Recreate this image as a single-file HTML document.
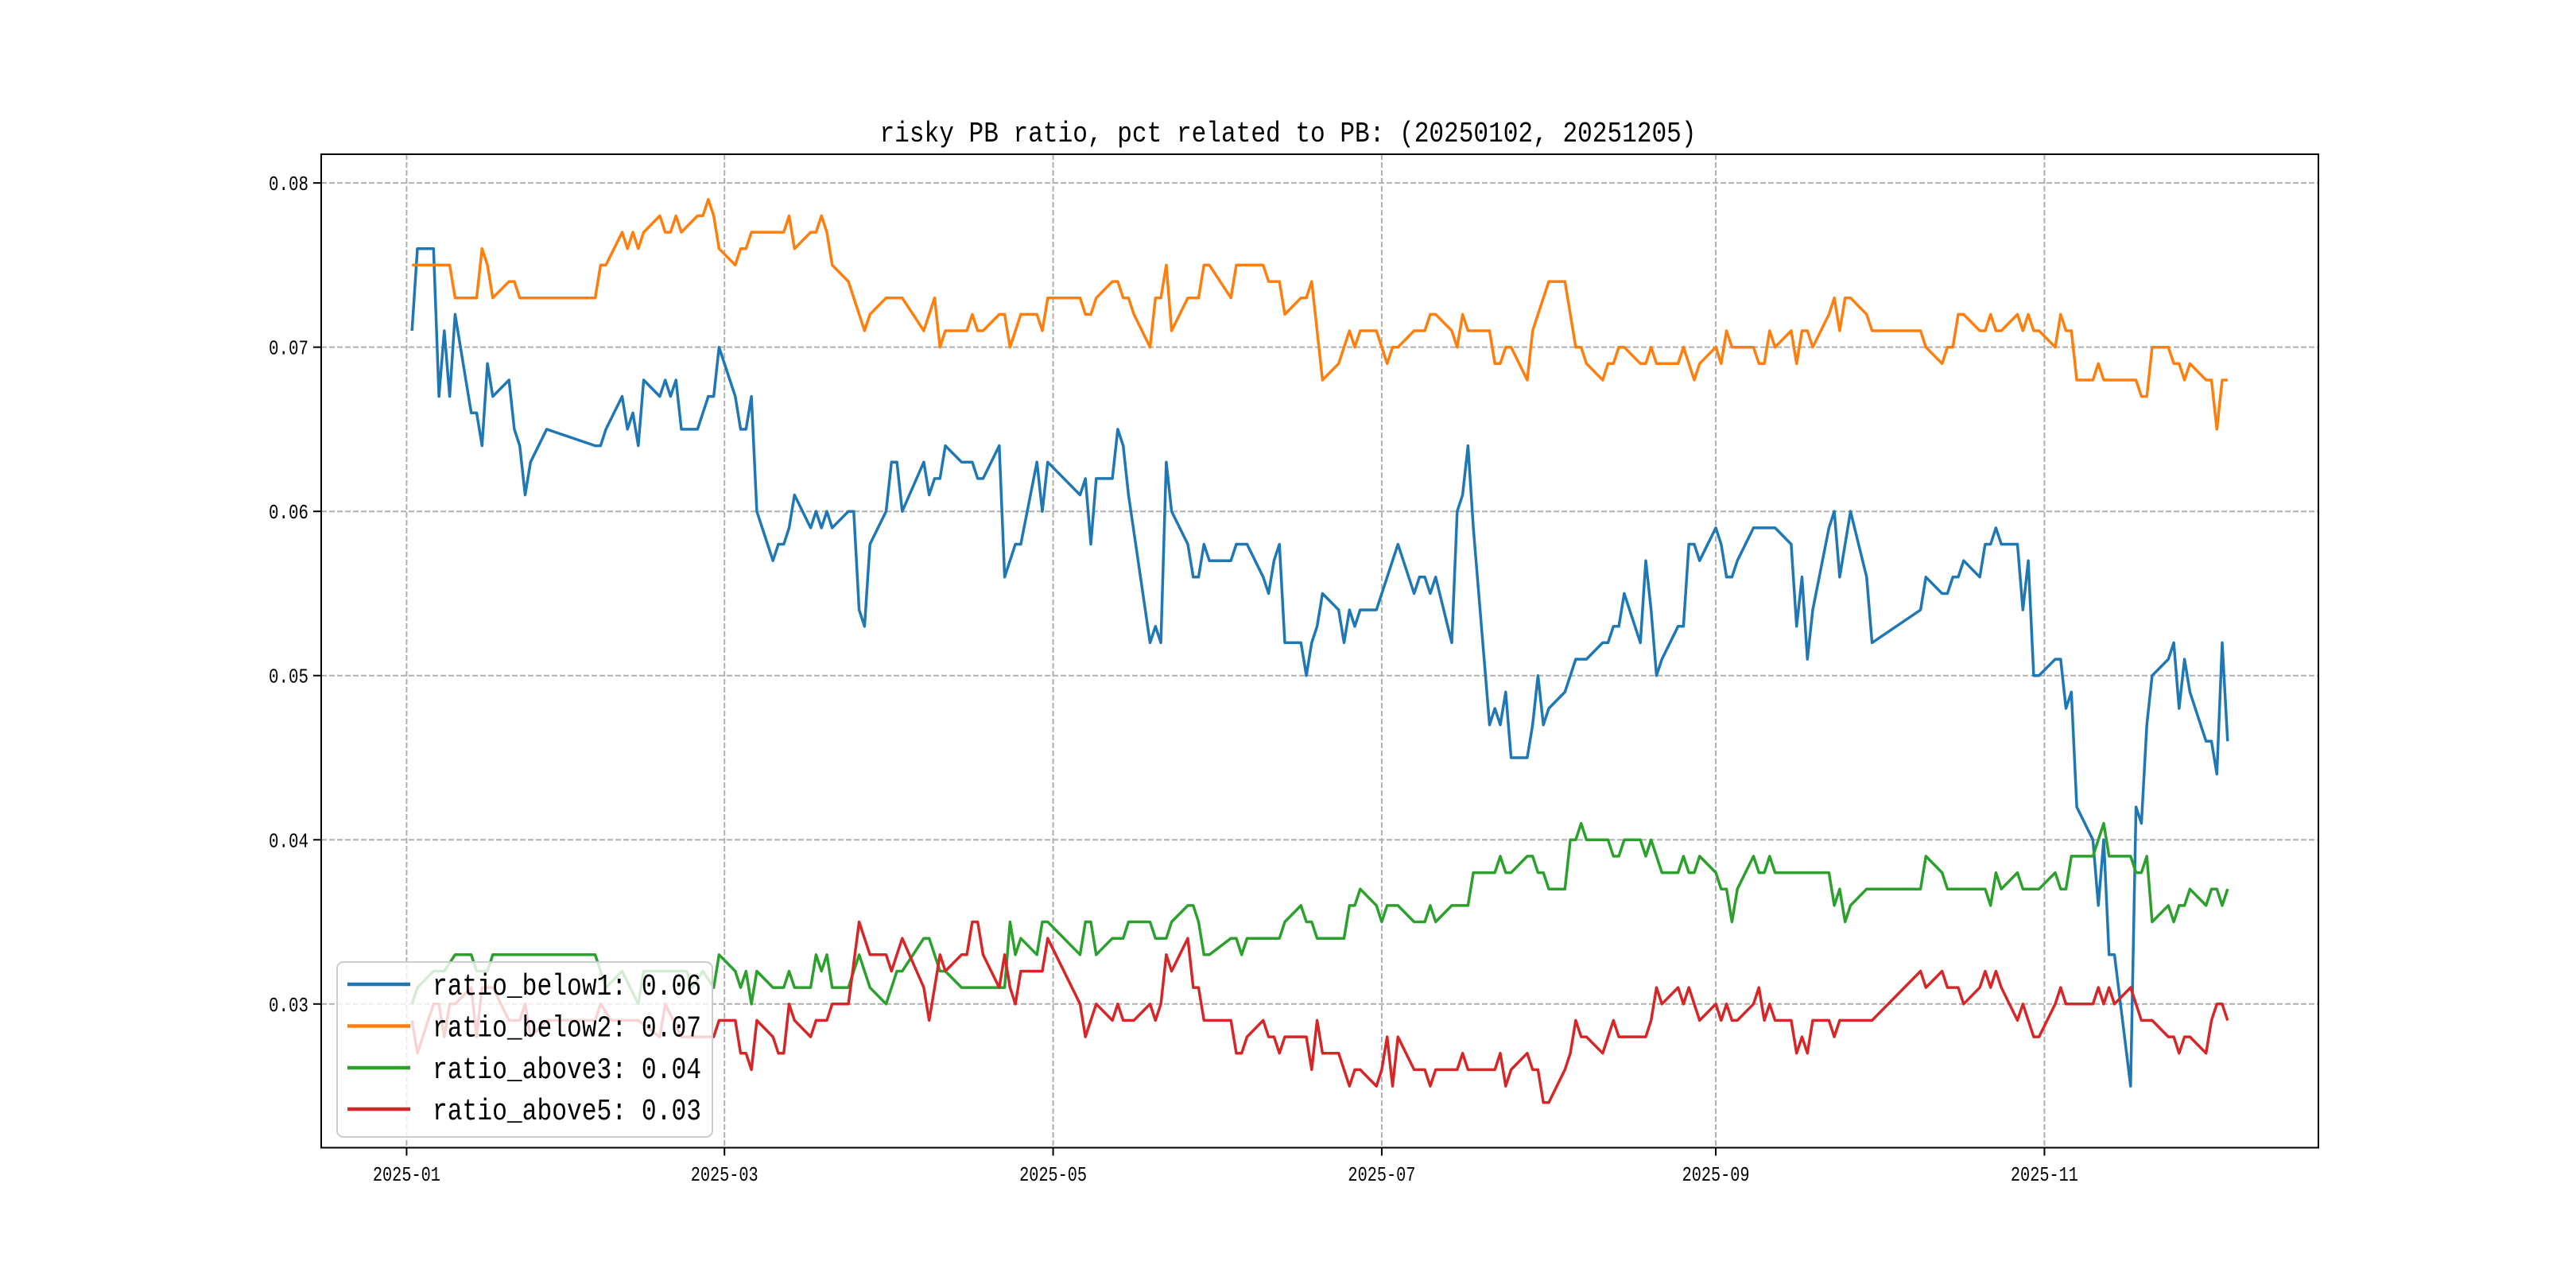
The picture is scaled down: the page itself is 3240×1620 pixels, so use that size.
<!DOCTYPE html>
<html><head><meta charset="utf-8"><style>
html,body{margin:0;padding:0;background:#fff;}
svg{display:block;}
text{font-family:"WenQuanYi Zen Hei","Liberation Mono","Noto Sans CJK SC",monospace;fill:#000;}
</style></head><body>
<svg id="chart" width="3240" height="1620" viewBox="0 0 3240 1620" xmlns="http://www.w3.org/2000/svg">
<rect x="0" y="0" width="3240" height="1620" fill="#fff"/>
<text x="1620" y="178" text-anchor="middle" font-size="36" textLength="1027" lengthAdjust="spacingAndGlyphs">risky PB ratio, pct related to PB: (20250102, 20251205)</text>
<g id="grid"></g>
<g id="series"></g>
<g id="axes"></g>
<g id="legend"></g>
</svg>
<script>
// ---- data (days since 2025-01-01, values in thousandths) ----
const xTickLabels = ["2025-01","2025-03","2025-05","2025-07","2025-09","2025-11"];
const xTickDays = [0,59,120,181,243,304];
const yTickValues = [0.03,0.04,0.05,0.06,0.07,0.08];
const yTickLabels = ["0.03","0.04","0.05","0.06","0.07","0.08"];
const seriesNames = ["ratio_below1: 0.06","ratio_below2: 0.07","ratio_above3: 0.04","ratio_above5: 0.03"];
const seriesColors = ["#1f77b4","#ff7f0e","#2ca02c","#d62728"];

const below1Days = [1,2,5,6,7,8,9,12,13,14,15,16,19,20,21,22,23,26,35,36,37,40,41,42,43,44,47,48,49,50,51,54,56,57,58,61,62,63,64,65,68,69,70,71,72,75,76,77,78,79,82,83,84,85,86,89,90,91,92,96,97,98,99,100,103,105,106,107,110,111,113,114,117,118,119,125,126,127,128,131,132,133,134,138,139,140,141,142,145,146,147,148,149,153,154,156,159,160,161,162,163,166,167,168,169,170,173,174,175,176,177,180,184,187,188,189,190,191,194,195,196,197,198,201,202,203,204,205,208,209,210,211,212,215,217,219,222,223,224,225,226,229,230,231,232,233,236,237,238,239,240,243,244,245,246,247,250,254,257,258,259,260,261,264,265,266,268,271,272,281,282,285,286,287,288,289,292,293,294,295,296,299,300,301,302,303,306,307,308,309,310,313,314,315,316,317,320,321,322,323,324,327,328,329,330,331,334,335,336,337,338];
const below1Vals = [71,76,76,67,71,67,72,66,66,64,69,67,68,65,64,61,63,65,64,64,65,67,65,66,64,68,67,68,67,68,65,65,67,67,70,67,65,65,67,60,57,58,58,59,61,59,60,59,60,59,60,60,54,53,58,60,63,63,60,63,61,62,62,64,63,63,62,62,64,56,58,58,63,60,63,61,62,58,62,62,65,64,61,52,53,52,63,60,58,56,56,58,57,57,58,58,56,55,57,58,52,52,50,52,53,55,54,52,54,53,54,54,58,55,56,56,55,56,52,60,61,64,59,47,48,47,49,45,45,47,50,47,48,49,51,51,52,52,53,53,55,52,57,54,50,51,53,53,58,58,57,59,58,56,56,57,59,59,58,53,56,51,54,59,60,56,60,56,52,54,56,55,55,56,56,57,56,58,58,59,58,58,54,57,50,50,51,51,48,49,42,40,36,40,33,33,25,42,41,47,50,51,52,48,51,49,46,46,44,52,46];

const below2Days = [1,8,9,13,14,15,16,19,20,21,35,36,37,40,41,42,43,44,47,48,49,50,51,54,55,56,57,58,61,62,63,64,70,71,72,75,76,77,78,79,82,85,86,89,92,96,98,99,100,104,105,106,107,110,111,112,114,117,118,119,125,126,127,128,131,132,133,134,135,138,139,140,141,142,145,147,148,149,153,154,159,160,162,163,166,167,168,170,173,175,176,177,180,182,183,184,187,189,190,191,194,195,196,197,201,202,203,204,205,208,209,212,215,217,218,219,222,223,224,225,226,229,230,231,232,236,237,239,240,243,244,245,246,250,251,252,253,254,257,258,259,260,261,264,265,266,267,268,271,272,281,282,285,286,287,288,289,292,293,294,295,296,299,300,301,302,303,306,307,308,309,310,313,314,315,321,322,323,324,327,328,329,330,331,334,335,336,337,338];
const below2Vals = [75,75,73,73,76,75,73,74,74,73,73,75,75,77,76,77,76,77,78,77,77,78,77,78,78,79,78,76,75,76,76,77,77,78,76,77,77,78,77,75,74,71,72,73,73,71,73,70,71,71,72,71,71,72,72,70,72,72,71,73,73,72,72,73,74,74,73,73,72,70,73,73,75,71,73,73,75,75,73,75,75,74,74,72,73,73,74,68,69,71,70,71,71,69,70,70,71,71,72,72,71,70,72,71,71,69,69,70,70,68,71,74,74,70,70,69,68,69,69,70,70,69,69,70,69,69,70,68,69,70,69,71,70,70,69,69,71,70,71,69,71,71,70,72,73,71,73,73,72,71,71,70,69,70,70,72,72,71,71,72,71,71,72,71,72,71,71,70,72,71,71,68,68,69,68,68,67,67,70,70,69,69,68,69,68,68,65,68,68];

const above3Days = [1,2,5,7,9,12,13,15,16,35,37,40,43,44,48,52,53,55,57,58,61,62,63,64,65,68,70,71,72,75,76,77,78,79,82,84,86,89,91,92,96,97,99,100,103,111,112,113,114,117,118,119,125,126,127,128,131,133,134,138,139,141,142,145,146,147,148,149,153,154,155,156,162,163,166,167,168,169,174,175,176,177,180,181,182,184,187,189,190,191,194,197,198,202,203,204,205,208,209,210,211,212,215,216,217,218,219,223,224,225,226,229,230,231,233,236,237,238,239,240,243,244,245,246,247,250,251,252,253,254,264,265,266,267,268,271,272,281,282,285,286,293,294,295,296,299,300,303,306,307,308,309,313,315,316,320,321,322,323,324,327,328,329,330,331,334,335,336,337,338];
const above3Vals = [30,31,32,32,33,33,32,32,33,33,31,32,30,32,32,32,31,32,31,33,32,31,32,30,32,31,31,32,31,31,33,32,33,31,31,33,31,30,32,32,34,34,32,32,31,31,35,33,34,33,35,35,33,35,35,33,34,34,35,35,34,34,35,36,36,35,33,33,34,34,33,34,34,35,36,35,35,34,34,36,36,37,36,35,36,36,35,35,36,35,36,36,38,38,39,38,38,39,39,38,38,37,37,40,40,41,40,40,39,39,40,40,39,40,38,38,39,38,38,39,38,37,37,35,37,39,38,38,39,38,38,36,37,35,36,37,37,37,39,38,37,37,36,38,37,38,37,37,38,37,37,39,39,41,39,39,38,38,39,35,36,35,36,36,37,36,37,37,36,37];

const above5Days = [1,2,4,5,6,7,8,9,12,13,14,16,19,21,22,23,26,35,36,38,43,47,48,51,57,58,61,62,63,64,65,68,69,70,71,72,75,76,78,79,82,84,86,89,90,92,96,97,99,100,103,104,105,106,107,110,111,112,113,114,118,119,125,126,128,131,132,133,135,138,139,140,141,142,145,146,147,148,153,154,155,156,159,160,161,162,163,167,168,169,170,173,175,176,177,180,181,182,183,184,187,189,190,191,195,196,197,202,203,204,205,208,209,210,211,212,215,216,217,218,219,222,224,225,230,231,232,233,236,237,238,240,243,244,245,246,247,250,251,252,253,254,257,258,259,260,261,264,265,266,272,281,282,285,286,288,289,292,293,294,295,296,299,300,302,303,306,307,308,313,314,315,316,317,320,322,324,327,328,329,330,331,334,335,336,337,338];
const above5Vals = [29,27,29,30,30,28,30,30,31,28,31,31,29,29,30,28,29,29,30,29,29,28,30,28,28,29,29,27,27,26,29,28,27,27,30,29,28,29,29,30,30,35,33,33,32,34,31,29,33,32,33,33,35,35,33,31,33,31,30,32,32,34,30,28,30,29,30,29,29,30,29,30,33,32,34,31,31,29,29,27,27,28,29,28,28,27,28,28,26,29,27,27,25,26,26,25,26,28,25,28,26,26,25,26,26,27,26,26,27,25,26,27,26,26,24,24,26,27,29,28,28,27,29,28,28,29,31,30,31,30,31,29,30,29,30,29,29,30,31,29,30,29,29,27,28,27,29,29,28,29,29,32,31,32,31,31,30,31,32,31,32,31,29,30,28,28,30,31,30,30,31,30,31,30,31,29,29,28,28,27,28,28,27,29,30,30,29];

// ---- scales ----
const PL = 404, PR = 2916, PT = 194, PB = 1443.5;
const X0 = -15.85, X1 = 354.85, Y0 = 0.02125, Y1 = 0.08175;
function xScale(d){ return PL + (d - X0) / (X1 - X0) * (PR - PL); }
function yScale(v){ return PB - (v - Y0) / (Y1 - Y0) * (PB - PT); }
const NS = "http://www.w3.org/2000/svg";
function mk(tag, attrs, parent){
  const e = document.createElementNS(NS, tag);
  for (const k in attrs) e.setAttribute(k, attrs[k]);
  parent.appendChild(e); return e;
}
const grid = document.getElementById('grid');
const axes = document.getElementById('axes');
const seriesG = document.getElementById('series');
const legend = document.getElementById('legend');

xTickDays.forEach((d,i)=>{
  const x = xScale(d);
  const l = mk('line',{x1:x,x2:x,y1:PT,y2:PB,stroke:'#b0b0b0','stroke-width':2,'stroke-dasharray':'7,3'},grid);
  
  
});
yTickValues.forEach((v,i)=>{
  const y = yScale(v);
  const l = mk('line',{x1:PL,x2:PR,y1:y,y2:y,stroke:'#b0b0b0','stroke-width':2,'stroke-dasharray':'7,3'},grid);
  
  
});

const allDays = [below1Days, below2Days, above3Days, above5Days];
const allVals = [below1Vals, below2Vals, above3Vals, above5Vals];
const seriesKeys = ['ratio-below1-line','ratio-below2-line','ratio-above3-line','ratio-above5-line'];
allDays.forEach((days, s)=>{
  const vals = allVals[s];
  const pts = days.map((d,i)=> xScale(d).toFixed(1)+','+yScale(vals[i]/1000).toFixed(1)).join(' ');
  const p = mk('polyline',{points:pts,fill:'none',stroke:seriesColors[s],'stroke-width':3.5,'stroke-linejoin':'round'},seriesG);
  
  
});

const frame = mk('rect',{x:PL,y:PT,width:PR-PL,height:PB-PT,fill:'none',stroke:'#000','stroke-width':2},axes);



xTickDays.forEach((d,i)=>{
  const x = xScale(d);
  const t = mk('line',{x1:x,x2:x,y1:PB,y2:PB+10,stroke:'#000','stroke-width':2},axes);
  
  
  const lb = mk('text',{x:x,y:1485,'text-anchor':'middle','font-size':26,textLength:85,lengthAdjust:'spacingAndGlyphs'},axes);
  lb.textContent = xTickLabels[i];
  
  
});
yTickValues.forEach((v,i)=>{
  const y = yScale(v);
  const t = mk('line',{x1:PL-10,x2:PL,y1:y,y2:y,stroke:'#000','stroke-width':2},axes);
  
  
  const lb = mk('text',{x:388,y:y+9,'text-anchor':'end','font-size':26,textLength:50,lengthAdjust:'spacingAndGlyphs'},axes);
  lb.textContent = yTickLabels[i];
  
  
});

const box = mk('rect',{x:424,y:1210,width:472,height:220,rx:8,ry:8,fill:'#fff','fill-opacity':0.8,stroke:'#cccccc','stroke-width':2},legend);


const legY = [1238,1290.5,1343,1395];
seriesNames.forEach((n,i)=>{
  const ln = mk('line',{x1:437,x2:516,y1:legY[i],y2:legY[i],stroke:seriesColors[i],'stroke-width':4.5},legend);
  
  
  const tx = mk('text',{x:544,y:legY[i]+13,'font-size':38,textLength:338,lengthAdjust:'spacingAndGlyphs'},legend);
  tx.textContent = n;
  
  
});
</script>
</body></html>
